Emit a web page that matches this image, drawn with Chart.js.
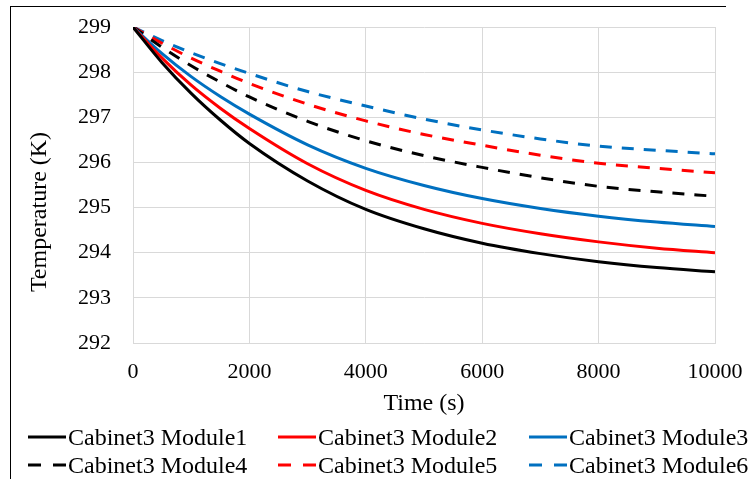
<!DOCTYPE html>
<html>
<head>
<meta charset="utf-8">
<script src="https://cdn.jsdelivr.net/npm/chart.js@4"></script>
<style>
  html, body { margin: 0; padding: 0; background: #fff; }
  #wrap { position: relative; width: 751px; height: 479px; overflow: hidden; background: #fff; }
  #frame { position: absolute; left: 10px; top: 6px; width: 716px; height: 490px;
           border-top: 1.5px solid #000; border-left: 1.5px solid #000; box-sizing: border-box; }
  #chart { position: absolute; left: 0; top: 0; }
  #ytitle { position: absolute; left: 38px; top: 212px; transform: translate(-50%, -50%) rotate(-90deg);
            font-family: "Liberation Serif", "Times New Roman", serif; font-size: 24px; color: #000;
            white-space: nowrap; line-height: 1; }
  #legend { position: absolute; left: 0; top: 0; width: 751px; height: 479px; pointer-events: none;
            font-family: "Liberation Serif", "Times New Roman", serif; font-size: 24px; color: #000; }
  .item { position: absolute; display: flex; align-items: center; height: 26px; white-space: nowrap; }
  .item svg { display: block; margin-right: 2px; }
</style>
</head>
<body>
<div id="wrap">
  <canvas id="chart" width="751" height="479"></canvas>
  <div id="frame"></div>
  <div id="ytitle">Temperature (K)</div>
  <div id="legend"></div>
</div>
<script>
// Time samples (s)
const times = [0, 500, 1000, 1500, 2000, 3000, 4000, 5000, 6000, 7000, 8000, 9000, 10000];

// Module temperatures (K), cabinet 3
const module1 = [299, 298.21, 297.53, 296.94, 296.42, 295.59, 294.96, 294.53, 294.21, 293.98, 293.80, 293.67, 293.58];
const module2 = [299, 298.31, 297.71, 297.20, 296.75, 295.97, 295.38, 294.96, 294.65, 294.42, 294.24, 294.10, 294.00];
const module3 = [299, 298.41, 297.90, 297.46, 297.07, 296.39, 295.87, 295.49, 295.20, 294.98, 294.81, 294.68, 294.58];
const module4 = [299, 298.55, 298.14, 297.78, 297.45, 296.91, 296.48, 296.15, 295.89, 295.66, 295.47, 295.35, 295.25];
const module5 = [299, 298.64, 298.31, 298.02, 297.75, 297.29, 296.92, 296.62, 296.38, 296.16, 295.98, 295.87, 295.77];
const module6 = [299, 298.70, 298.43, 298.19, 297.97, 297.57, 297.25, 296.96, 296.72, 296.52, 296.36, 296.27, 296.19];

const seriesNames = ['Cabinet3 Module1', 'Cabinet3 Module2', 'Cabinet3 Module3',
                     'Cabinet3 Module4', 'Cabinet3 Module5', 'Cabinet3 Module6'];
const seriesValues = [module1, module2, module3, module4, module5, module6];

// Axis ranges and tick steps
const xTickRange = { min: 0, max: 10000, step: 2000 };
const yTickRange = { min: 292, max: 299, step: 1 };

const BLACK = '#000000', RED = '#ff0000', BLUE = '#0070c0';
const colors = [BLACK, RED, BLUE, BLACK, RED, BLUE];
const DASH = [12, 10];
const dashed = [false, false, false, true, true, true];

const FONT = 'Liberation Serif';
const GRID = '#d9d9d9';

const datasets = seriesValues.map((vals, i) => ({
  label: seriesNames[i],
  data: times.map((t, k) => ({ x: t, y: vals[k] })),
  borderColor: colors[i],
  backgroundColor: colors[i],
  borderWidth: 3,
  borderDash: dashed[i] ? DASH : [],
  borderCapStyle: 'butt',
  pointRadius: 0,
  fill: false,
  cubicInterpolationMode: 'monotone',
  order: i
}));

const chart = new Chart(document.getElementById('chart'), {
  type: 'line',
  data: { datasets },
  options: {
    responsive: false,
    animation: false,
    devicePixelRatio: 1,
    layout: { padding: { left: 25, top: 27, right: 8, bottom: 61 } },
    plugins: { legend: { display: false }, tooltip: { enabled: false } },
    scales: {
      x: {
        type: 'linear',
        min: xTickRange.min, max: xTickRange.max,
        afterFit: s => { s.height = 75; s.paddingRight = 36; s.paddingLeft = 0; },
        ticks: {
          stepSize: xTickRange.step,
          padding: 16,
          color: '#000',
          font: { family: FONT, size: 22 },
          callback: v => String(v),
          maxRotation: 0
        },
        grid: { color: GRID, lineWidth: 1, drawTicks: false },
        border: { color: GRID, width: 1 },
        title: { display: true, text: 'Time (s)', color: '#000',
                 font: { family: FONT, size: 24 }, padding: { top: 0, bottom: 0 } }
      },
      y: {
        min: yTickRange.min, max: yTickRange.max,
        afterFit: s => { s.width = 108; s.paddingTop = 0; s.paddingBottom = 0; },
        ticks: {
          stepSize: yTickRange.step,
          padding: 22,
          color: '#000',
          font: { family: FONT, size: 22 },
          callback: v => String(v)
        },
        grid: { color: GRID, lineWidth: 1, drawTicks: false },
        border: { color: GRID, width: 1 }
      }
    }
  }
});

// Legend: two rows of three entries, built from the chart's datasets
const legendCols = [28, 278, 529];
const legendRows = [437, 465];
const legendEl = document.getElementById('legend');
chart.data.datasets.forEach((ds, i) => {
  const item = document.createElement('div');
  item.className = 'item';
  item.style.left = legendCols[i % 3] + 'px';
  item.style.top = (legendRows[Math.floor(i / 3)] - 13) + 'px';
  const ns = 'http://www.w3.org/2000/svg';
  const svg = document.createElementNS(ns, 'svg');
  svg.setAttribute('width', '38');
  svg.setAttribute('height', '26');
  const ln = document.createElementNS(ns, 'line');
  ln.setAttribute('x1', '0'); ln.setAttribute('x2', '38');
  ln.setAttribute('y1', '13'); ln.setAttribute('y2', '13');
  ln.setAttribute('stroke', ds.borderColor);
  ln.setAttribute('stroke-width', '3');
  if (ds.borderDash.length) ln.setAttribute('stroke-dasharray', '13 12');
  svg.appendChild(ln);
  item.appendChild(svg);
  const span = document.createElement('span');
  span.textContent = ds.label;
  item.appendChild(span);
  legendEl.appendChild(item);
});
</script>
</body>
</html>
